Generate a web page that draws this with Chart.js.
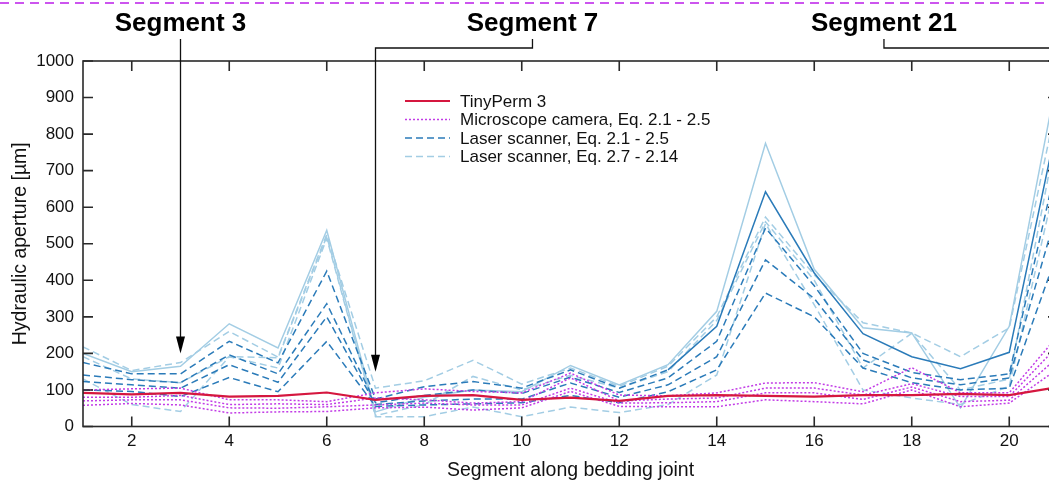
<!DOCTYPE html>
<html>
<head>
<meta charset="utf-8">
<script src="https://cdn.jsdelivr.net/npm/chart.js@4.4.1/dist/chart.umd.min.js"></script>
<style>
html, body { margin:0; padding:0; background:#fff; overflow:hidden; }
#wrap { position:absolute; left:0; top:0; width:1070px; height:484px; }
</style>
</head>
<body>
<div id="wrap"><canvas id="grafico"></canvas></div>
<script>
// Segmentos a lo largo de la junta
const segments = [1,2,3,4,5,6,7,8,9,10,11,12,13,14,15,16,17,18,19,20,21];
const xTicks = [2,4,6,8,10,12,14,16,18,20];
const yTicks = [0,100,200,300,400,500,600,700,800,900,1000];

// TinyPerm 3
const tinyPerm = [92,88,92,82,84,93,73,84,86,73,79,70,84,86,84,82,86,86,89,86,108];

// Microscope camera, Eq. 2.1 - 2.5
const micro1 = [100,103,105,73,73,68,92,103,96,92,146,86,84,92,119,120,95,161,92,92,249];
const micro2 = [80,80,85,60,62,60,78,73,64,68,133,70,75,78,105,105,86,117,82,82,221];
const micro3 = [70,73,73,51,50,54,59,64,59,59,105,64,65,68,92,92,74,108,68,72,190];
const micro4 = [58,63,59,37,40,41,51,53,45,51,96,55,54,54,73,68,62,100,54,64,158];

// Laser scanner, Eq. 2.1 - 2.5
const laserA1 = [175,144,144,233,174,425,75,109,123,105,155,105,155,274,642,420,254,191,158,203,840];
const laserA2 = [141,128,120,196,144,336,65,85,100,90,135,93,133,233,543,385,200,148,128,144,734];
const laserA3 = [123,114,105,169,121,300,60,70,75,75,119,80,114,191,456,350,182,133,114,133,600];
const laserA4 = [100,96,82,134,95,233,55,59,62,65,85,65,95,155,365,300,160,120,100,105,481];

// Laser scanner, Eq. 2.7 - 2.14
const laserB1 = [200,150,165,281,215,537,40,80,100,95,167,114,169,315,775,430,270,256,51,274,967];
const laserB2 = [218,153,175,260,190,525,105,125,181,116,160,110,165,300,573,415,284,256,191,270,900];
const laserB3 = [191,130,120,191,188,520,30,60,137,100,140,105,150,290,560,400,160,255,100,130,820];
const laserB4 = [130,60,41,191,160,515,27,27,53,27,53,38,60,141,555,333,100,78,60,110,700];

const legendLabels = ['TinyPerm 3', 'Microscope camera, Eq. 2.1 - 2.5', 'Laser scanner, Eq. 2.1 - 2.5', 'Laser scanner, Eq. 2.7 - 2.14'];

const estilos = {
  tiny:   { color:'#d5173f', width:2.2, dash:[] },
  micro:  { color:'#c23ce6', width:1.5, dash:[2,2] },
  laserA: { color:'#2b7bb9', width:1.5, dash:[7,4] },
  laserB: { color:'#a3cde4', width:1.5, dash:[7,4] }
};

const FONT = '"Liberation Sans", Arial, sans-serif';

function serie(values, st, extra) {
  return Object.assign({
    data: values.map((v, i) => ({ x: segments[i], y: v })),
    borderColor: st.color,
    borderWidth: st.width,
    borderDash: st.dash,
    pointRadius: 0,
    tension: 0,
    fill: false
  }, extra || {});
}

// el primer dataset se dibuja encima
const datasets = [
  serie(tinyPerm, estilos.tiny),
  serie(micro1, estilos.micro), serie(micro2, estilos.micro),
  serie(micro3, estilos.micro), serie(micro4, estilos.micro),
  serie(laserA1, estilos.laserA, { segment: { borderDash: ctx => ctx.p0DataIndex >= 12 ? [] : [7,4] } }),
  serie(laserA2, estilos.laserA), serie(laserA3, estilos.laserA), serie(laserA4, estilos.laserA),
  serie(laserB1, estilos.laserB, { borderDash: [] }),
  serie(laserB2, estilos.laserB), serie(laserB3, estilos.laserB), serie(laserB4, estilos.laserB)
];

// Marco con ticks hacia dentro, leyenda y anotaciones
const extrasPlugin = {
  id: 'extras',
  afterDraw(chart) {
    const ctx = chart.ctx;
    const a = chart.chartArea;
    const xs = chart.scales.x, ys = chart.scales.y;
    ctx.save();

    // linea discontinua superior
    ctx.strokeStyle = '#cc55ee';
    ctx.lineWidth = 2;
    ctx.setLineDash([9,6]);
    ctx.beginPath(); ctx.moveTo(0, 3); ctx.lineTo(1070, 3); ctx.stroke();
    ctx.setLineDash([]);

    // marco
    ctx.strokeStyle = '#2a2a2a';
    ctx.lineWidth = 1.6;
    ctx.strokeRect(a.left, a.top, a.right - a.left, a.bottom - a.top);
    ctx.beginPath();
    xTicks.forEach(t => {
      const px = xs.getPixelForValue(t);
      ctx.moveTo(px, a.bottom); ctx.lineTo(px, a.bottom - 10);
      ctx.moveTo(px, a.top); ctx.lineTo(px, a.top + 10);
    });
    yTicks.forEach(t => {
      const py = ys.getPixelForValue(t);
      ctx.moveTo(a.left, py); ctx.lineTo(a.left + 10, py);
      ctx.moveTo(a.right, py); ctx.lineTo(a.right - 10, py);
    });
    ctx.stroke();

    // leyenda
    const sty = [estilos.tiny, estilos.micro, estilos.laserA, estilos.laserB];
    const rows = [101, 119.5, 138, 156.5];
    ctx.font = '17px ' + FONT;
    ctx.textBaseline = 'middle';
    ctx.textAlign = 'left';
    legendLabels.forEach((lab, i) => {
      const s = sty[i];
      ctx.strokeStyle = s.color;
      ctx.lineWidth = s.width;
      ctx.setLineDash(s.dash);
      ctx.beginPath(); ctx.moveTo(405, rows[i]); ctx.lineTo(450, rows[i]); ctx.stroke();
      ctx.setLineDash([]);
      ctx.fillStyle = '#111';
      ctx.fillText(lab, 460, rows[i] + 1);
    });

    // anotaciones de segmentos
    const notas = [
      { seg: 3, tip: 200, text: 'Segment 3', at: 3 },
      { seg: 7, tip: 150, text: 'Segment 7', at: 10.22 },
      { seg: 21, tip: 960, text: 'Segment 21', at: 17.43 }
    ];
    ctx.font = 'bold 26px ' + FONT;
    ctx.textAlign = 'center';
    ctx.textBaseline = 'alphabetic';
    ctx.strokeStyle = '#111';
    ctx.fillStyle = '#000';
    ctx.lineWidth = 1.3;
    notas.forEach(n => {
      const tx = xs.getPixelForValue(n.at);
      const ax = xs.getPixelForValue(n.seg);
      const ty = ys.getPixelForValue(n.tip);
      ctx.fillText(n.text, tx, 31);
      ctx.beginPath();
      if (Math.abs(tx - ax) < 1) {
        ctx.moveTo(ax, 39); ctx.lineTo(ax, ty - 16);
      } else {
        ctx.moveTo(tx, 39); ctx.lineTo(tx, 48); ctx.lineTo(ax, 48); ctx.lineTo(ax, ty - 16);
      }
      ctx.stroke();
      ctx.beginPath();
      ctx.moveTo(ax, ty); ctx.lineTo(ax - 4.5, ty - 17); ctx.lineTo(ax + 4.5, ty - 17);
      ctx.closePath(); ctx.fill();
    });
    ctx.restore();
  }
};

new Chart(document.getElementById('grafico').getContext('2d'), {
  type: 'line',
  data: { datasets },
  plugins: [extrasPlugin],
  options: {
    responsive: true,
    maintainAspectRatio: false,
    animation: false,
    layout: { padding: { top: 61, right: 12, left: 0, bottom: 0 } },
    plugins: { legend: { display: false }, tooltip: { enabled: false } },
    scales: {
      x: {
        type: 'linear', min: 1, max: 21,
        afterBuildTicks: s => { s.ticks = xTicks.map(v => ({ value: v })); },
        afterFit: s => { s.height = 57.5; },
        grid: { display: false, drawTicks: false },
        border: { display: false },
        ticks: { color: '#111', font: { family: FONT, size: 17 }, padding: 5, maxRotation: 0,
                 callback: v => String(v) },
        title: { display: true, text: 'Segment along bedding joint', color: '#111',
                 font: { family: FONT, size: 19.5 }, padding: { top: 0, bottom: 2 } }
      },
      y: {
        min: 0, max: 1000,
        afterBuildTicks: s => { s.ticks = yTicks.map(v => ({ value: v })); },
        afterFit: s => { s.width = 83; },
        grid: { display: false, drawTicks: false },
        border: { display: false },
        ticks: { color: '#111', font: { family: FONT, size: 17 }, padding: 9,
                 callback: v => String(v) },
        title: { display: true, text: 'Hydraulic aperture [µm]', color: '#111',
                 font: { family: FONT, size: 19.5 }, padding: { top: 9, bottom: 0 } }
      }
    }
  }
});
</script>
</body>
</html>
